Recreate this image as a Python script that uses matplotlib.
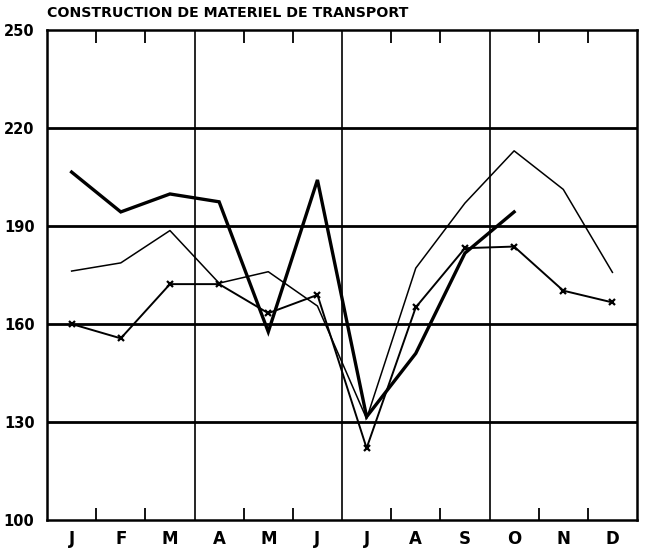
import numpy as np
import matplotlib
matplotlib.use("Agg")
import matplotlib.pyplot as plt
from matplotlib.ticker import FixedLocator

# month labels (O drawn as plain letter)
months = ['J', 'F', 'M', 'A', 'M', 'J', 'J', 'A', 'S', 'O', 'N', 'D']
y_ticks = [100, 130, 160, 190, 220, 250]

# thick series, stops at October
thick_vals = [206.5, 194.3, 199.8, 197.4, 157.6, 204.1, 131.6, 151.0, 181.7, 194.3]
# thin series, full year
thin_vals = [176.2, 178.7, 188.6, 172.5, 176.0, 165.5, 131.0, 177.1, 197.0, 213.0, 201.2, 175.8]
# series with x markers
cross_vals = [160.0, 155.6, 172.2, 172.2, 163.3, 168.9, 122.0, 165.1, 183.2, 183.7, 170.2, 166.6]

fig = plt.figure(figsize=(6.46, 5.53), dpi=100)
ax = fig.add_axes([0.0728, 0.0597, 0.9133, 0.8861])

x = np.arange(len(months))

ax.plot(np.arange(len(thick_vals)), thick_vals, color='black', lw=2.4,
        solid_joinstyle='miter', zorder=4)
ax.plot(x, thin_vals, color='black', lw=1.1, zorder=4)
ax.plot(x, cross_vals, color='black', lw=1.4, marker='x', ms=5, mew=1.6, zorder=4)

ax.set_xlim(-0.5, 11.5)
ax.set_ylim(100, 250)

# horizontal grid
for v in y_ticks[1:-1]:
    ax.axhline(v, color='black', lw=2.0, zorder=2)
# quarter lines
for q in [2.5, 5.5, 8.5]:
    ax.axvline(q, color='black', lw=1.2, zorder=2)

ax.set_xticks(x)
ax.set_xticklabels(months, fontsize=12, fontweight='bold')
ax.xaxis.set_minor_locator(FixedLocator([0.5, 1.5, 3.5, 4.5, 6.5, 7.5, 9.5, 10.5]))
ax.tick_params(axis='x', which='major', length=0, pad=7)
ax.tick_params(axis='x', which='minor', direction='in', length=9, width=1.3,
               top=True, bottom=True)

ax.set_yticks(y_ticks)
ax.set_yticklabels([str(v) for v in y_ticks], fontsize=10.5, fontweight='bold')
ax.tick_params(axis='y', length=0, pad=9)

for s in ax.spines.values():
    s.set_linewidth(1.8)

ax.set_title('CONSTRUCTION DE MATERIEL DE TRANSPORT', loc='left', fontsize=10.2,
             fontweight='bold', pad=9)

fig.savefig('out.png', dpi=100)
